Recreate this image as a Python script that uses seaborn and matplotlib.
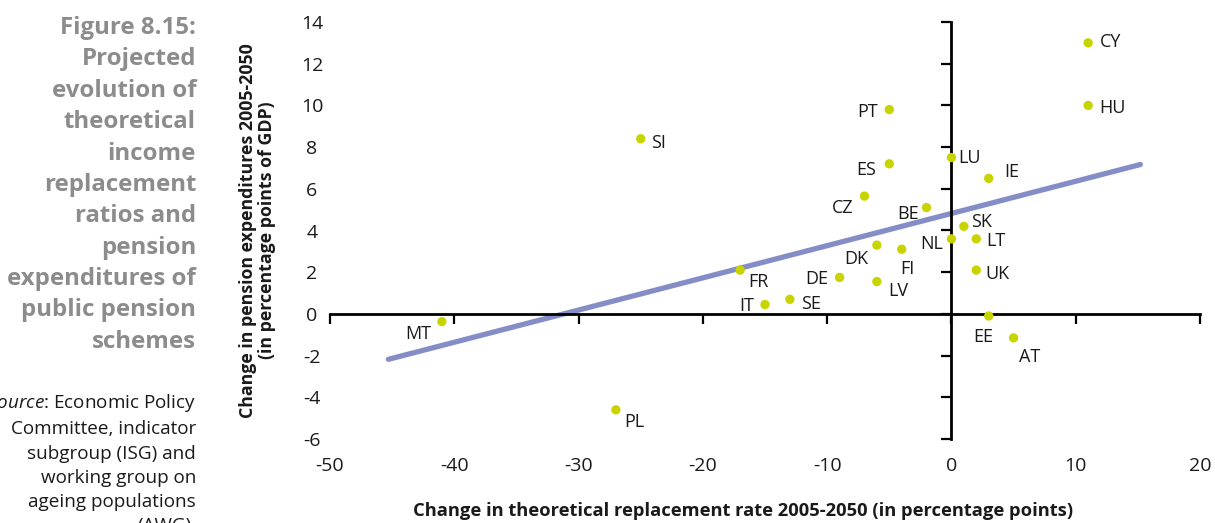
import matplotlib.pyplot as plt
import seaborn as sns
import numpy as np
import pandas as pd

# Data
countries = ['CY', 'HU', 'PT', 'SI', 'LU', 'ES', 'IE', 'CZ', 'BE', 'SK', 'LT', 'NL',
             'DK', 'FI', 'UK', 'FR', 'DE', 'LV', 'SE', 'IT', 'EE', 'AT', 'MT', 'PL']
repl_change = [11, 11, -5, -25, 0, -5, 3, -7, -2, 1, 2, 0,
               -6, -4, 2, -17, -9, -6, -13, -15, 3, 5, -41, -27]
exp_change = [13.0, 10.0, 9.8, 8.4, 7.5, 7.2, 6.5, 5.65, 5.1, 4.2, 3.6, 3.6,
              3.3, 3.1, 2.1, 2.1, 1.75, 1.55, 0.7, 0.45, -0.1, -1.15, -0.37, -4.6]
x_ticks = [-50, -40, -30, -20, -10, 0, 10, 20]
y_ticks = [-6, -4, -2, 0, 2, 4, 6, 8, 10, 12, 14]
trend_span = [-45.3, 15.2]

title_text = ("Figure 8.15:\nProjected\nevolution of\ntheoretical\nincome\nreplacement\n"
              "ratios and\npension\nexpenditures of\npublic pension\nschemes")
source_text = (r"$\mathit{Source}$: Economic Policy" "\nCommittee, indicator\nsubgroup (ISG) and\n"
               "working group on\nageing populations\n(AWG).")

# label placement: (ha, dx, dy) in pixels
label_pos = {
    'CY': ('left', 12, 3), 'HU': ('left', 11, -1), 'PT': ('right', -11, 0),
    'SI': ('left', 10, -2), 'LU': ('left', 7, 2), 'ES': ('right', -13, -4),
    'IE': ('left', 16, 8), 'CZ': ('right', -11, -10), 'BE': ('right', -8, -4),
    'SK': ('left', 7, 6), 'LT': ('left', 10, 0), 'NL': ('right', -8, -3),
    'DK': ('right', -9, -12), 'FI': ('center', 6, -18), 'UK': ('left', 9, -2),
    'FR': ('left', 8, -10), 'DE': ('right', -11, 0), 'LV': ('left', 11, -7),
    'SE': ('left', 11, -3), 'IT': ('right', -11, 1), 'EE': ('center', -5, -19),
    'AT': ('left', 5, -17), 'MT': ('right', -11, -10), 'PL': ('left', 8, -10),
}

sns.set_theme(style='white')
plt.rcParams['font.family'] = ['Open Sans', 'DejaVu Sans']
plt.rcParams['mathtext.fontset'] = 'custom'
plt.rcParams['mathtext.rm'] = 'Open Sans'
plt.rcParams['mathtext.it'] = 'Open Sans:italic'
plt.rcParams['axes.unicode_minus'] = False

df = pd.DataFrame({'country': countries, 'repl': repl_change, 'exp': exp_change})

# least squares trend line, extended like a spreadsheet trendline
slope, intercept = np.polyfit(df['repl'], df['exp'], 1)
trend = pd.DataFrame({'x': trend_span})
trend['y'] = slope * trend['x'] + intercept

fig = plt.figure(figsize=(12.15, 5.23), dpi=100)
ax = fig.add_axes([330 / 1215, 1 - 439 / 523, 870 / 1215, 417 / 523])

sns.lineplot(data=trend, x='x', y='y', ax=ax, color='#858dc6', linewidth=3.8,
             solid_capstyle='round', zorder=2)
sns.scatterplot(data=df, x='repl', y='exp', ax=ax, color='#c8d400', s=45,
                edgecolor='none', zorder=3)

for c, x, y in zip(countries, repl_change, exp_change):
    ha, dx, dy = label_pos[c]
    ax.annotate(c, (x, y), xytext=(dx, dy), textcoords='offset pixels',
                ha=ha, va='center_baseline', fontsize=13, color='#1a1a1a')

ax.set_xlim(x_ticks[0], x_ticks[-1])
ax.set_ylim(y_ticks[0], y_ticks[-1])

# axes crossing at the origin, tick marks only
for side in ['top', 'right']:
    ax.spines[side].set_visible(False)
ax.spines['left'].set_position(('data', 0))
ax.spines['bottom'].set_position(('data', 0))
for side in ['left', 'bottom']:
    ax.spines[side].set_color('black')
    ax.spines[side].set_linewidth(2)
ax.set_xticks(x_ticks)
ax.set_yticks(y_ticks)
ax.tick_params(axis='both', direction='out', length=7, width=1.6, color='black',
               labelleft=False, labelbottom=False, left=True, bottom=True)

# tick labels on the outer edges
secx = ax.secondary_xaxis('bottom')
secx.set_xticks(x_ticks)
secx.spines['bottom'].set_visible(False)
secx.tick_params(length=0, pad=13, labelsize=14, labelcolor='#1a1a1a')
secy = ax.secondary_yaxis('left')
secy.set_yticks(y_ticks)
secy.spines['left'].set_visible(False)
secy.tick_params(length=0, pad=13, labelsize=14, labelcolor='#1a1a1a')
plt.setp(secy.get_yticklabels(), ha='center')

ax.set_xlabel('Change in theoretical replacement rate 2005-2050 (in percentage points)',
              fontsize=13.2, fontweight='bold', color='#1a1a1a')
ax.set_ylabel('Change in pension expenditures 2005-2050\n(in percentage points of GDP)',
              fontsize=12.8, fontweight='bold', color='#1a1a1a', linespacing=1.05)
ax.xaxis.set_label_coords(0.475, -0.152)
ax.xaxis.label.set_va('top')
ax.yaxis.set_label_coords(-0.062, 0.5)

fig.text(196 / 1215, 1 - 16 / 523, title_text, ha='right', va='top', multialignment='right',
         fontsize=17.3, fontweight='bold', color='#8c8c8c', linespacing=1.41)
fig.text(196 / 1215, 1 - 392 / 523, source_text, ha='right', va='top', multialignment='right',
         fontsize=13.6, color='#1a1a1a', linespacing=1.45)

fig.savefig('out.png', dpi=100)
